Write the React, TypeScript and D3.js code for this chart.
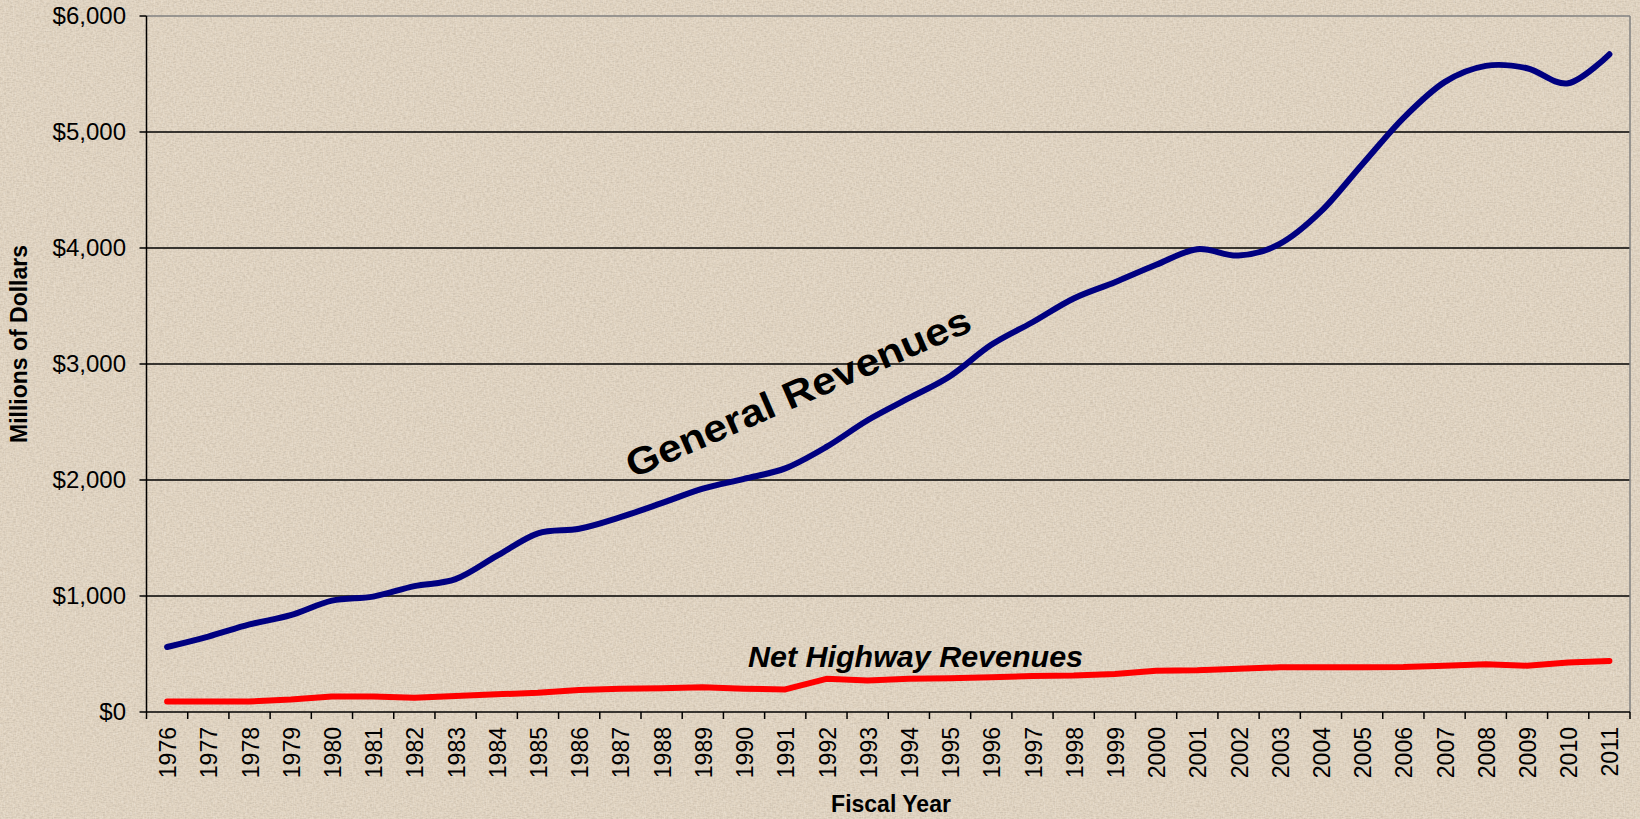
import React from "react";
import * as d3 from "d3";

const years = ["1976","1977","1978","1979","1980","1981","1982","1983","1984","1985","1986","1987","1988","1989","1990","1991","1992","1993","1994","1995","1996","1997","1998","1999","2000","2001","2002","2003","2004","2005","2006","2007","2008","2009","2010","2011"];

const generalRevenues = [560, 650, 755, 835, 960, 995, 1085, 1145, 1345, 1540, 1580, 1680, 1800, 1925, 2010, 2100, 2285, 2515, 2705, 2895, 3165, 3360, 3565, 3705, 3855, 3990, 3935, 4035, 4315, 4720, 5120, 5430, 5570, 5550, 5420, 5670];

const netHighwayRevenues = [90, 90, 90, 108, 134, 134, 122, 137, 152, 166, 190, 200, 204, 214, 201, 195, 286, 271, 287, 292, 300, 310, 315, 328, 356, 359, 373, 385, 385, 385, 388, 399, 412, 399, 426, 440];

const yTicks = [0, 1000, 2000, 3000, 4000, 5000, 6000];

const W = 1640;
const H = 819;
const FONT = "'Liberation Sans', Arial, sans-serif";

export default function App() {
  const left = 146.5, right = 1630, top = 16, bottom = 712;
  const x = d3.scaleBand<string>().domain(years).range([left, right]).padding(0);
  const y = d3.scaleLinear().domain([0, 6000]).range([bottom, top]);
  const cx = (yr: string) => (x(yr) as number) + x.bandwidth() / 2;

  const genLine = d3
    .line<number>()
    .x((_, i) => cx(years[i]))
    .y((d) => y(d))
    .curve(d3.curveCardinal.tension(0));
  const hwyLine = d3
    .line<number>()
    .x((_, i) => cx(years[i]))
    .y((d) => y(d))
    .curve(d3.curveLinear);

  const boundaries = years.map((yr) => x(yr) as number).concat([right]);

  return (
    <svg width={W} height={H} style={{ position: "absolute", left: 0, top: 0 }} fontFamily={FONT}>
      <defs>
        <filter id="tex" x="0" y="0" width="100%" height="100%">
          <feTurbulence type="fractalNoise" baseFrequency="0.3 0.8" numOctaves={2} seed={3} result="n" />
          <feColorMatrix
            in="n"
            type="matrix"
            values="0 0 0 0 0.42  0 0 0 0 0.36  0 0 0 0 0.29  0 0 0 -1.8 1.15"
          />
        </filter>
        <filter id="tex2" x="0" y="0" width="100%" height="100%">
          <feTurbulence type="fractalNoise" baseFrequency="0.9 0.25" numOctaves={1} seed={9} result="n" />
          <feColorMatrix
            in="n"
            type="matrix"
            values="0 0 0 0 1  0 0 0 0 0.97  0 0 0 0 0.92  0 0 0 1.8 -0.75"
          />
        </filter>
      </defs>
      <rect x={0} y={0} width={W} height={H} fill="#e2d5c2" />
      <rect x={0} y={0} width={W} height={H} filter="url(#tex)" opacity={0.45} />
      <rect x={0} y={0} width={W} height={H} filter="url(#tex2)" opacity={0.35} />

      {/* gridlines */}
      {yTicks.slice(1, -1).map((t) => (
        <line key={t} x1={left} x2={right} y1={y(t)} y2={y(t)} stroke="#000" strokeWidth={1.3} />
      ))}
      {/* plot border top & right */}
      <line x1={left} x2={right} y1={y(6000)} y2={y(6000)} stroke="#808080" strokeWidth={1.5} />
      <line x1={right} x2={right} y1={top} y2={bottom} stroke="#808080" strokeWidth={1.5} />

      {/* y axis */}
      <line x1={left} x2={left} y1={top} y2={bottom} stroke="#000" strokeWidth={1.5} />
      {yTicks.map((t) => (
        <g key={t}>
          <line x1={left - 7} x2={left} y1={y(t)} y2={y(t)} stroke="#000" strokeWidth={1.5} />
          <text x={126} y={y(t)} dy="0.35em" textAnchor="end" fontSize={24} fill="#000">
            {d3.format("$,")(t)}
          </text>
        </g>
      ))}

      {/* x axis */}
      <line x1={left} x2={right} y1={bottom} y2={bottom} stroke="#000" strokeWidth={1.5} />
      {boundaries.map((b, i) => (
        <line key={i} x1={b} x2={b} y1={bottom} y2={bottom + 7} stroke="#000" strokeWidth={1.5} />
      ))}
      {years.map((yr) => (
        <text
          key={yr}
          transform={`translate(${cx(yr) + 1},${727}) rotate(-90)`}
          textAnchor="end"
          dy="0.35em"
          fontSize={23}
          fill="#000"
        >
          {yr}
        </text>
      ))}

      {/* axis titles */}
      <text x={891} y={812} textAnchor="middle" fontSize={23} fontWeight="bold" fill="#000">
        Fiscal Year
      </text>
      <text
        transform={`translate(${19},${344}) rotate(-90)`}
        textAnchor="middle"
        dy="0.35em"
        fontSize={23}
        fontWeight="bold"
        fill="#000"
      >
        Millions of Dollars
      </text>

      {/* series */}
      <path d={genLine(generalRevenues) || ""} fill="none" stroke="#000080" strokeWidth={6} strokeLinecap="round" strokeLinejoin="round" />
      <path d={hwyLine(netHighwayRevenues) || ""} fill="none" stroke="#ff0000" strokeWidth={6} strokeLinecap="round" strokeLinejoin="round" />

      {/* series labels */}
      <text
        transform={`translate(${798},${392}) rotate(-23.5)`}
        textAnchor="middle"
        dy="0.35em"
        fontSize={38}
        fontWeight="bold"
        fill="#000"
        textLength={372}
        lengthAdjust="spacingAndGlyphs"
      >
        General Revenues
      </text>
      <text
        x={748}
        y={667}
        fontSize={29}
        fontWeight="bold"
        fontStyle="italic"
        fill="#000"
        textLength={335}
        lengthAdjust="spacingAndGlyphs"
      >
        Net Highway Revenues
      </text>
    </svg>
  );
}
